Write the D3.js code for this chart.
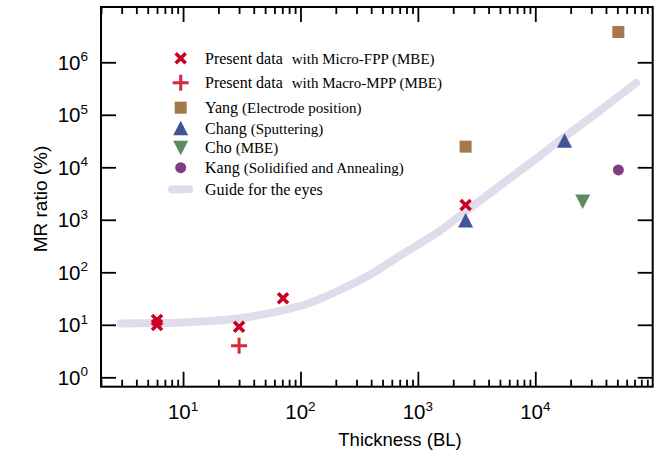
<!DOCTYPE html>
<html>
<head>
<meta charset="utf-8">
<script src="https://cdn.jsdelivr.net/npm/d3@7"></script>
<style>
  body { margin: 0; background: #fff; }
  svg { display: block; }
</style>
</head>
<body>
<svg width="659" height="461"></svg>
<script>
// Values (thickness in BL, MR ratio in %)
const microT = [6, 6, 30, 71, 2550];
const microMR = [12.3, 9.9, 9.2, 32, 1910];
const macroT = [30];
const macroMR = [4.0];
const yangT = [2550, 51000];
const yangMR = [24700, 3.78e6];
const changT = [2550, 17750];
const changMR = [970, 32000];
const choT = [25350];
const choMR = [2230];
const kangT = [51000];
const kangMR = [8890];

// guide for the eyes
const guideT = [2.95, 5.87, 10, 16.9, 29.8, 45, 72, 120, 216, 388, 698, 1530, 2550, 4960, 10900, 17700, 35200, 72300];
const guideMR = [10.6, 10.8, 11.1, 11.8, 13.2, 15.4, 19.1, 26, 46, 89, 204, 612, 1440, 4400, 16400, 37800, 118000, 404000];

const xMajor = [10, 100, 1000, 10000];
const yMajor = [1, 10, 100, 1000, 10000, 100000, 1000000];

// Scales
var svg = d3.select('svg');
var x = d3.scaleLog().domain([2.0, 1e5]).range([101, 652.7]);
var y = d3.scaleLog().domain([0.662, 1.13e7]).range([386.7, 7]);
var plotLeft = x.range()[0], plotRight = x.range()[1];
var plotTop = y.range()[1], plotBottom = y.range()[0];

// minor ticks 2..9 per decade
var xMinor = [];
for (var k = 0; k <= 4; k++) {
  for (var m = 2; m <= 9; m++) {
    var v = m * Math.pow(10, k);
    if (v >= 2 && v <= 1e5) xMinor.push(v);
  }
}

// guide curve
var guide = d3.line()
  .x(function (d) { return x(d[0]); })
  .y(function (d) { return y(d[1]); })
  .curve(d3.curveCatmullRom);

svg.append('path')
  .datum(d3.zip(guideT, guideMR))
  .attr('d', guide)
  .attr('fill', 'none')
  .attr('stroke', '#e1dcec')
  .attr('stroke-width', 8)
  .attr('stroke-linecap', 'round');

// Axes (ticks point inwards on all four sides)
function styleAxis(g) {
  g.select('.domain').remove();
  g.selectAll('line').attr('stroke', '#000').attr('stroke-width', 1.8);
}
svg.append('g').attr('transform', 'translate(0,' + plotBottom + ')')
  .call(d3.axisBottom(x).tickValues(xMinor).tickSize(-7).tickFormat(''))
  .call(styleAxis);
svg.append('g').attr('transform', 'translate(0,' + plotBottom + ')')
  .call(d3.axisBottom(x).tickValues(xMajor).tickSize(-15).tickFormat(''))
  .call(styleAxis);
svg.append('g').attr('transform', 'translate(0,' + plotTop + ')')
  .call(d3.axisTop(x).tickValues(xMinor).tickSize(-7).tickFormat(''))
  .call(styleAxis);
svg.append('g').attr('transform', 'translate(0,' + plotTop + ')')
  .call(d3.axisTop(x).tickValues(xMajor).tickSize(-15).tickFormat(''))
  .call(styleAxis);
svg.append('g').attr('transform', 'translate(' + plotLeft + ',0)')
  .call(d3.axisLeft(y).tickValues(yMajor).tickSize(-15).tickFormat(''))
  .call(styleAxis);
svg.append('g').attr('transform', 'translate(' + plotRight + ',0)')
  .call(d3.axisRight(y).tickValues(yMajor).tickSize(-15).tickFormat(''))
  .call(styleAxis);

svg.append('rect')
  .attr('x', plotLeft).attr('y', plotTop)
  .attr('width', plotRight - plotLeft).attr('height', plotBottom - plotTop)
  .attr('fill', 'none').attr('stroke', '#000').attr('stroke-width', 2);

// Tick labels 10^n
var sans = 'Liberation Sans, Arial, Helvetica, sans-serif';
function powLabel(sel, v) {
  sel.append('tspan').text('10');
  sel.append('tspan').attr('font-size', 13.5).attr('dy', -8.5)
    .text(Math.round(Math.log10(v)));
}
xMajor.forEach(function (v) {
  svg.append('text')
    .attr('x', x(v)).attr('y', 419)
    .attr('text-anchor', 'middle')
    .attr('font-family', sans).attr('font-size', 20.5)
    .call(powLabel, v);
});
yMajor.forEach(function (v) {
  svg.append('text')
    .attr('x', 88).attr('y', y(v) + 7.3)
    .attr('text-anchor', 'end')
    .attr('font-family', sans).attr('font-size', 20.5)
    .call(powLabel, v);
});

svg.append('text')
  .attr('x', 400).attr('y', 446)
  .attr('text-anchor', 'middle')
  .attr('font-family', sans).attr('font-size', 18.5)
  .text('Thickness (BL)');
svg.append('text')
  .attr('transform', 'translate(47,199) rotate(-90)')
  .attr('text-anchor', 'middle')
  .attr('font-family', sans).attr('font-size', 19)
  .text('MR ratio (%)');

// Marker shapes (centred at 0,0)
var shapes = {
  cross: function (g, c) {
    g.append('path').attr('d', 'M-5,-5L5,5M-5,5L5,-5')
      .attr('stroke', c).attr('stroke-width', 3.6).attr('fill', 'none');
  },
  plus: function (g, c) {
    g.append('path').attr('d', 'M-8,0L8,0M0,-8L0,8')
      .attr('stroke', c).attr('stroke-width', 3).attr('fill', 'none');
  },
  square: function (g, c) {
    g.append('rect').attr('x', -6).attr('y', -6).attr('width', 12).attr('height', 12).attr('fill', c);
  },
  up: function (g, c) {
    g.append('path').attr('d', 'M0,-7.5L7.5,7L-7.5,7Z').attr('fill', c);
  },
  down: function (g, c) {
    g.append('path').attr('d', 'M0,7.5L7.5,-7L-7.5,-7Z').attr('fill', c);
  },
  circle: function (g, c) {
    g.append('circle').attr('r', 5.5).attr('fill', c);
  }
};

var series = [
  { shape: 'cross', color: '#cc0022', t: microT, mr: microMR, big: 'Present data', small: 'with Micro-FPP (MBE)', gap: 9 },
  { shape: 'plus', color: '#d42a3c', t: macroT, mr: macroMR, big: 'Present data', small: 'with Macro-MPP (MBE)', gap: 9 },
  { shape: 'square', color: '#a47a4c', t: yangT, mr: yangMR, big: 'Yang', small: '(Electrode position)', gap: 4 },
  { shape: 'up', color: '#3f5597', t: changT, mr: changMR, big: 'Chang', small: '(Sputtering)', gap: 4 },
  { shape: 'down', color: '#5e8b5e', t: choT, mr: choMR, big: 'Cho', small: '(MBE)', gap: 4 },
  { shape: 'circle', color: '#7e3d84', t: kangT, mr: kangMR, big: 'Kang', small: '(Solidified and Annealing)', gap: 4 }
];

// data points
series.forEach(function (s) {
  svg.append('g').selectAll('g')
    .data(d3.zip(s.t, s.mr))
    .enter()
    .append('g')
    .attr('transform', function (d) { return 'translate(' + x(d[0]) + ',' + y(d[1]) + ')'; })
    .each(function () { shapes[s.shape](d3.select(this), s.color); });
});

// Legend
var serif = 'Liberation Serif, Times New Roman, serif';
var rowY = [58.3, 82.7, 107.7, 128.3, 147.7, 167.7, 189.3];
var legend = svg.append('g');
series.forEach(function (s, i) {
  var g = legend.append('g').attr('transform', 'translate(180.7,' + rowY[i] + ')');
  shapes[s.shape](g, s.color);
  var t = legend.append('text')
    .attr('x', 205).attr('y', rowY[i] + 5.5)
    .attr('font-family', serif).attr('fill', '#000');
  t.append('tspan').attr('font-size', 16).text(s.big);
  t.append('tspan').attr('font-size', 15).attr('dx', s.gap).text(s.small);
});
legend.append('line')
  .attr('x1', 172).attr('x2', 189)
  .attr('y1', rowY[6]).attr('y2', rowY[6])
  .attr('stroke', '#e1dcec').attr('stroke-width', 8).attr('stroke-linecap', 'round');
legend.append('text')
  .attr('x', 205).attr('y', rowY[6] + 5.5)
  .attr('font-family', serif).attr('font-size', 16)
  .text('Guide for the eyes');
</script>
</body>
</html>
